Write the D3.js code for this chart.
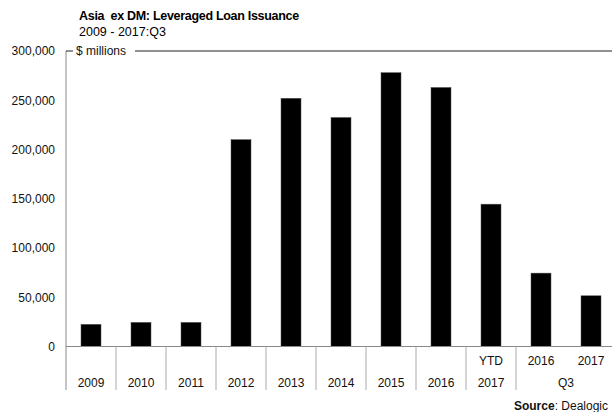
<!DOCTYPE html>
<html>
<head>
<meta charset="utf-8">
<script src="https://cdn.jsdelivr.net/npm/d3@7"></script>
<style>
  body { margin: 0; background: #fff; }
  svg { display: block; font-family: "Liberation Sans", Arial, sans-serif; }
</style>
</head>
<body>
<svg id="chart" width="612" height="412"></svg>
<script>
const categories = ["2009","2010","2011","2012","2013","2014","2015","2016","2017 YTD","2016 Q3","2017 Q3"];
const values = [22500, 24500, 24500, 210000, 252000, 232500, 278000, 263000, 144500, 74500, 51500];
const labelTop = ["","","","","","","","","YTD","2016","2017"];
const labelBottom = ["2009","2010","2011","2012","2013","2014","2015","2016","2017","",""];
const groupLabel = "Q3";
const yTicks = [0, 50000, 100000, 150000, 200000, 250000, 300000];

(function () {
const svg = d3.select("#chart");
const pLeft = 66, pRight = 616, pTop = 51, pZero = 346.5, pBottom = 390;
const fs = 12;

const x = d3.scaleBand().domain(d3.range(categories.length)).range([pLeft, pRight])
  .paddingInner(0.6).paddingOuter(0.3);
const y = d3.scaleLinear().domain([0, 300000]).range([pZero, pTop]);
const step = x.step();
const catStart = i => x(i) - (step - x.bandwidth()) / 2;

// Title
svg.append("text").attr("x", 79).attr("y", 20)
  .attr("font-size", 12.5).attr("font-weight", "bold").attr("fill", "#000")
  .attr("letter-spacing", -0.3)
  .style("white-space", "pre")
  .text("Asia  ex DM: Leveraged Loan Issuance");
svg.append("text").attr("x", 79).attr("y", 36)
  .attr("font-size", 12.5).attr("fill", "#000")
  .text("2009 - 2017:Q3");

// Y axis
const yAxis = d3.axisLeft(y).tickValues(yTicks).tickSize(0).tickPadding(11)
  .tickFormat(d3.format(","));
const gy = svg.append("g").attr("transform", `translate(${pLeft},0)`).call(yAxis);
gy.select(".domain").remove();
gy.selectAll("text").attr("font-size", fs).attr("fill", "#111")
  .attr("font-family", "Liberation Sans, Arial, sans-serif");

// Left axis line (extends into category area)
svg.append("line").attr("x1", pLeft).attr("x2", pLeft).attr("y1", pTop).attr("y2", pBottom)
  .attr("stroke", "#888").attr("stroke-width", 1);

// Top border with "$ millions"
svg.append("line").attr("x1", pLeft).attr("x2", 73).attr("y1", pTop).attr("y2", pTop)
  .attr("stroke", "#222").attr("stroke-width", 1);
svg.append("line").attr("x1", 135).attr("x2", 612).attr("y1", pTop).attr("y2", pTop)
  .attr("stroke", "#222").attr("stroke-width", 1);
svg.append("text").attr("x", 76).attr("y", pTop + 4)
  .attr("font-size", fs).attr("fill", "#111").text("$ millions");

// Bars
svg.append("g").selectAll("rect").data(values).join("rect")
  .attr("x", (d, i) => x(i)).attr("width", x.bandwidth())
  .attr("y", d => y(d)).attr("height", d => y(0) - y(d))
  .attr("fill", "#000").attr("stroke", "#555").attr("stroke-width", 0.5);

// Zero axis
svg.append("line").attr("x1", pLeft).attr("x2", 612).attr("y1", y(0)).attr("y2", y(0))
  .attr("stroke", "#888").attr("stroke-width", 1);

// Category separators
const seps = d3.range(1, 10);
svg.append("g").selectAll("line").data(seps).join("line")
  .attr("x1", i => catStart(i)).attr("x2", i => catStart(i))
  .attr("y1", y(0)).attr("y2", pBottom)
  .attr("stroke", "#aaa").attr("stroke-width", 1);

// Category labels
svg.append("g").selectAll("text").data(labelTop).join("text")
  .attr("x", (d, i) => x(i) + x.bandwidth() / 2).attr("y", 365)
  .attr("text-anchor", "middle").attr("font-size", fs).attr("fill", "#111")
  .text(d => d);
svg.append("g").selectAll("text").data(labelBottom).join("text")
  .attr("x", (d, i) => x(i) + x.bandwidth() / 2).attr("y", 387)
  .attr("text-anchor", "middle").attr("font-size", fs).attr("fill", "#111")
  .text(d => d);
svg.append("text")
  .attr("x", (catStart(9) + catStart(10) + step) / 2).attr("y", 387)
  .attr("text-anchor", "middle").attr("font-size", fs).attr("fill", "#111")
  .text(groupLabel);

// Source
const src = svg.append("text").attr("x", 608).attr("y", 410)
  .attr("text-anchor", "end").attr("font-size", fs).attr("fill", "#111");
src.append("tspan").attr("font-weight", "bold").text("Source");
src.append("tspan").text(": Dealogic");
})();
</script>
</body>
</html>
